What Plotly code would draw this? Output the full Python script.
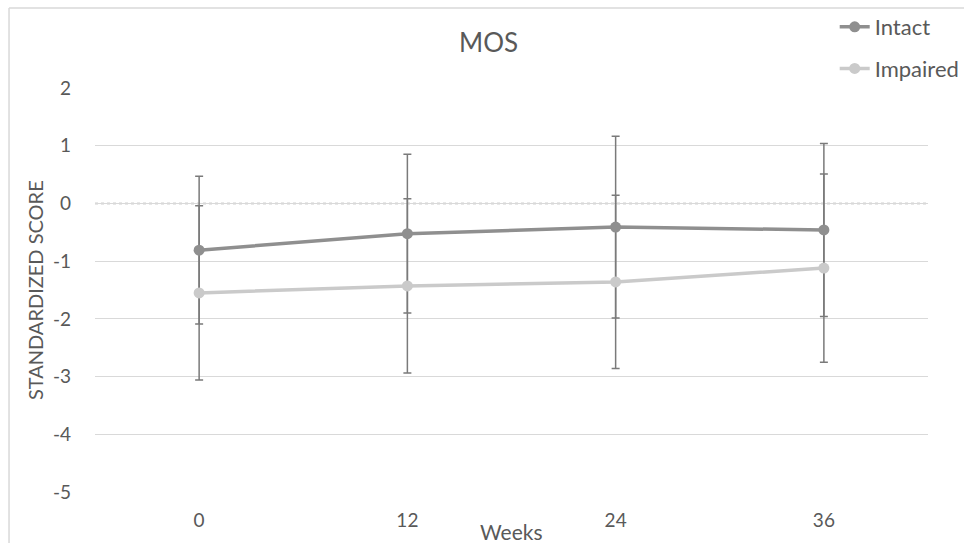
import plotly.graph_objects as go

weeks = ["0", "12", "24", "36"]
intact_mean = [-0.81, -0.525, -0.41, -0.46]
intact_err = [1.28, 1.375, 1.575, 1.50]
impaired_mean = [-1.55, -1.43, -1.36, -1.12]
impaired_err = [1.51, 1.51, 1.50, 1.63]
y_ticks = [2, 1, 0, -1, -2, -3, -4, -5]

font_family = "Lato, 'Open Sans', sans-serif"
text_col = "#595959"
intact_col = "#8f8f8f"
impaired_col = "#cacaca"
bar_col = "#7a7a7a"
grid_col = "#d9d9d9"

fig = go.Figure()

# error bars first so the markers sit on top of them
for mean, err in [(intact_mean, intact_err), (impaired_mean, impaired_err)]:
    fig.add_trace(go.Scatter(
        x=weeks, y=mean, mode="markers",
        marker=dict(size=1, opacity=0),
        error_y=dict(type="data", array=err, symmetric=True,
                     color=bar_col, thickness=1.5, width=4),
        showlegend=False, hoverinfo="skip"))

fig.add_trace(go.Scatter(
    x=weeks, y=intact_mean, name="Intact", mode="lines+markers",
    line=dict(color=intact_col, width=3.5),
    marker=dict(color=intact_col, size=11),
    legendgroup="a"))
fig.add_trace(go.Scatter(
    x=weeks, y=impaired_mean, name="Impaired", mode="lines+markers",
    line=dict(color=impaired_col, width=3.5),
    marker=dict(color=impaired_col, size=11),
    legendgroup="b"))

shapes = [
    # mask the solid y=0 gridline, then draw it dotted
    dict(type="line", xref="paper", yref="y", x0=0, x1=1, y0=0, y1=0,
         line=dict(color="white", width=2), layer="between"),
    dict(type="line", xref="paper", yref="y", x0=0, x1=1, y0=0, y1=0,
         line=dict(color="#cfcfcf", width=2, dash="dot"), layer="between"),
    # outer chart frame (top and left edges)
    dict(type="line", xref="paper", yref="paper", x0=-0.1032, x1=1.05,
         y0=1.198, y1=1.198, line=dict(color=grid_col, width=1.5)),
    dict(type="line", xref="paper", yref="paper", x0=-0.1032, x1=-0.1032,
         y0=1.198, y1=-0.14, line=dict(color=grid_col, width=1.5)),
]

annotations = [
    dict(text="MOS", xref="paper", yref="paper", x=0.472, y=1.114,
         xanchor="center", yanchor="middle", showarrow=False,
         font=dict(size=26, color=text_col, family=font_family)),
    dict(text="STANDARDIZED SCORE", xref="paper", yref="paper", x=-0.072, y=0.5,
         xanchor="center", yanchor="middle", textangle=-90, showarrow=False,
         font=dict(size=20, color=text_col, family=font_family)),
    dict(text="Weeks", xref="paper", yref="paper", x=0.5, y=-0.097,
         xanchor="center", yanchor="middle", showarrow=False,
         font=dict(size=21, color=text_col, family=font_family)),
]

fig.update_layout(
    width=964, height=543,
    margin=dict(l=95, r=36, t=88, b=51, autoexpand=False),
    paper_bgcolor="white", plot_bgcolor="white",
    font=dict(family=font_family, color=text_col, size=19),
    shapes=shapes, annotations=annotations,
    showlegend=True,
    legend=dict(x=0.888, y=1.203, xanchor="left", yanchor="top",
                font=dict(size=22, color=text_col, family=font_family),
                tracegroupgap=10, bgcolor="rgba(0,0,0,0)"),
    xaxis=dict(type="category", categoryorder="array", categoryarray=weeks,
               range=[-0.5, 3.5], showgrid=False, zeroline=False, showline=False,
               ticks="", ticklabelstandoff=15,
               tickfont=dict(size=19, color=text_col)),
    yaxis=dict(range=[-5, 2], tickvals=y_ticks, ticktext=[str(v) for v in y_ticks],
               showgrid=True, gridcolor=grid_col, gridwidth=1,
               zeroline=False, showline=False, ticks="", ticklabelstandoff=23,
               tickfont=dict(size=19, color=text_col)),
)

fig.write_html("out.html")
